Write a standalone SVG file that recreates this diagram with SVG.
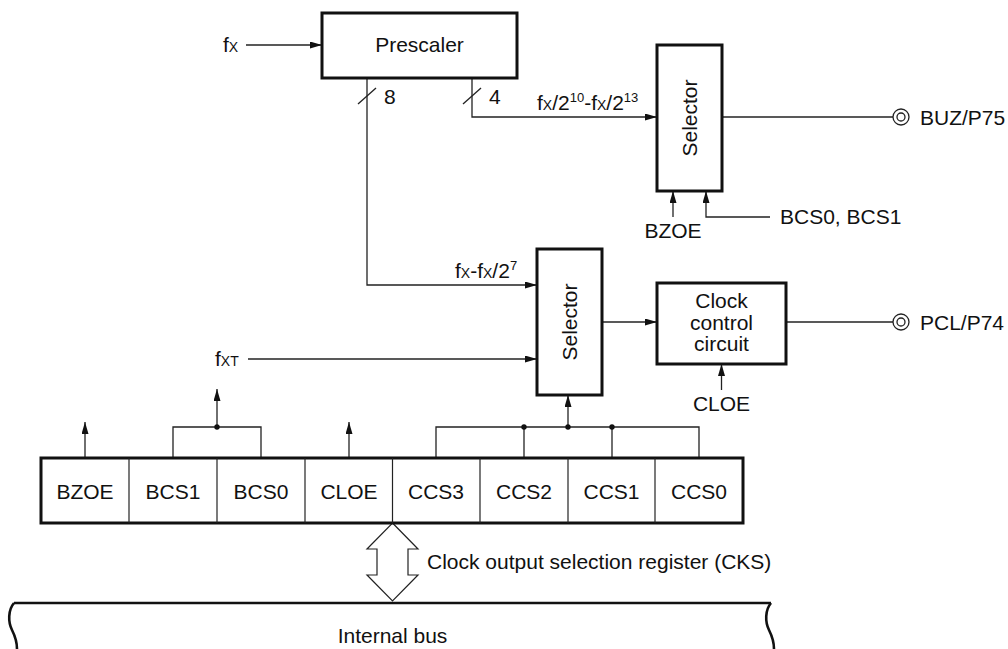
<svg xmlns="http://www.w3.org/2000/svg" width="1008" height="649" viewBox="0 0 1008 649">
<style>
text{font-family:"Liberation Sans",Arial,sans-serif;font-size:21px;fill:#111}
.m{text-anchor:middle}
.s{font-size:14px}
.sup{font-size:13px}
.box{fill:#fff;stroke:#111;stroke-width:3}
.ln{fill:none;stroke:#222;stroke-width:1.3}
.arr{fill:none;stroke:#222;stroke-width:1.3;marker-end:url(#ah)}
.thin{fill:none;stroke:#222;stroke-width:1.2}
.dot{fill:#111}
.pin{fill:#fff;stroke:#222;stroke-width:1.3}
.bus{fill:none;stroke:#111;stroke-width:2.6}
</style>
<defs>
<marker id="ah" markerUnits="userSpaceOnUse" markerWidth="13" markerHeight="8" refX="12" refY="3.5" orient="auto">
<path d="M0,0 L12,3.5 L0,7 z" fill="#111"/>
</marker>
</defs>
<rect width="1008" height="649" fill="#fff"/>

<g id="connectors">
<line class="arr" x1="246" y1="45" x2="322" y2="45"/>
<path class="arr" d="M367,78 V285 H537"/>
<path class="arr" d="M472,78 V117 H657"/>
<line class="ln" x1="358" y1="104" x2="376" y2="88"/>
<line class="ln" x1="463" y1="104" x2="481" y2="88"/>
<line class="ln" x1="722" y1="117" x2="893" y2="117"/>
<line class="arr" x1="673" y1="217" x2="673" y2="191"/>
<path class="arr" d="M770,217 H706 V191"/>
<line class="arr" x1="248" y1="359" x2="537" y2="359"/>
<line class="arr" x1="602" y1="322" x2="657" y2="322"/>
<line class="ln" x1="786" y1="322" x2="893" y2="322"/>
<line class="arr" x1="721.5" y1="390" x2="721.5" y2="364"/>
<line class="arr" x1="85" y1="458" x2="85" y2="422"/>
<path class="ln" d="M173,458 V427 H261 V458"/>
<line class="arr" x1="217" y1="427" x2="217" y2="389"/>
<circle class="dot" cx="217" cy="427" r="2.7"/>
<line class="arr" x1="349" y1="458" x2="349" y2="422"/>
<path class="ln" d="M436,458 V427 H699 V458"/>
<line class="ln" x1="524" y1="427" x2="524" y2="458"/>
<line class="ln" x1="612" y1="427" x2="612" y2="458"/>
<line class="arr" x1="568" y1="427" x2="568" y2="395"/>
<circle class="dot" cx="524" cy="427" r="2.7"/>
<circle class="dot" cx="568" cy="427" r="2.7"/>
<circle class="dot" cx="612" cy="427" r="2.7"/>
<path class="thin" fill="#fff" d="M392.5,523 L418,549 L408,549 L408,575 L418,575 L392.5,601 L367,575 L377,575 L377,549 L367,549 Z"/>
</g>

<g id="labels">
<text x="223" y="52">f<tspan class="s">X</tspan></text>
<text x="384" y="104">8</text>
<text x="489" y="104">4</text>
<text x="537" y="110">f<tspan class="s">X</tspan>/2<tspan class="sup" dy="-8">10</tspan><tspan dy="8">-f</tspan><tspan class="s">X</tspan>/2<tspan class="sup" dy="-8">13</tspan></text>
<text x="455" y="278">f<tspan class="s">X</tspan>-f<tspan class="s">X</tspan>/2<tspan class="sup" dy="-8">7</tspan></text>
<text x="215" y="366">f<tspan class="s">XT</tspan></text>
<text class="m" x="673" y="238">BZOE</text>
<text x="780" y="224">BCS0, BCS1</text>
<text class="m" x="721.5" y="411">CLOE</text>
<text x="427" y="569">Clock output selection register (CKS)</text>
</g>

<g id="prescaler">
<rect class="box" x="322" y="13" width="195" height="65"/>
<text class="m" x="419.5" y="52">Prescaler</text>
</g>

<g id="selector1">
<rect class="box" x="657" y="45" width="65" height="146"/>
<text class="m" x="689.5" y="125.5" transform="rotate(-90 689.5 118)">Selector</text>
</g>

<g id="selector2">
<rect class="box" x="537" y="249" width="65" height="146"/>
<text class="m" x="569.5" y="329.5" transform="rotate(-90 569.5 322)">Selector</text>
</g>

<g id="clock-control">
<rect class="box" x="657" y="283" width="129" height="81"/>
<text class="m" x="721.5" y="308">Clock</text>
<text class="m" x="721.5" y="330">control</text>
<text class="m" x="721.5" y="351">circuit</text>
</g>

<g id="pin-buz">
<circle class="pin" cx="901" cy="117" r="8"/>
<circle class="pin" cx="901" cy="117" r="4"/>
<text x="920" y="125">BUZ/P75</text>
</g>

<g id="pin-pcl">
<circle class="pin" cx="901" cy="322" r="8"/>
<circle class="pin" cx="901" cy="322" r="4"/>
<text x="920" y="330">PCL/P74</text>
</g>

<g id="register">
<rect x="41" y="458" width="702" height="65" fill="#fff" stroke="#111" stroke-width="3"/>
<g stroke="#222" stroke-width="1.2">
<line x1="129" y1="458" x2="129" y2="523"/>
<line x1="217" y1="458" x2="217" y2="523"/>
<line x1="305" y1="458" x2="305" y2="523"/>
<line x1="392.5" y1="458" x2="392.5" y2="523"/>
<line x1="480" y1="458" x2="480" y2="523"/>
<line x1="568" y1="458" x2="568" y2="523"/>
<line x1="655" y1="458" x2="655" y2="523"/>
</g>
<text class="m" x="85" y="499">BZOE</text>
<text class="m" x="173" y="499">BCS1</text>
<text class="m" x="261" y="499">BCS0</text>
<text class="m" x="349" y="499">CLOE</text>
<text class="m" x="436" y="499">CCS3</text>
<text class="m" x="524" y="499">CCS2</text>
<text class="m" x="611.5" y="499">CCS1</text>
<text class="m" x="699" y="499">CCS0</text>
</g>

<g id="internal-bus">
<path class="bus" d="M14,603 H771"/>
<path class="bus" d="M14,603 C8,610 8,622 12,630 C16,638 17,644 17,649"/>
<path class="bus" d="M771,603 C765,610 765,622 769,630 C773,638 774,644 774,649"/>
<text class="m" x="392.5" y="643">Internal bus</text>
</g>
</svg>
